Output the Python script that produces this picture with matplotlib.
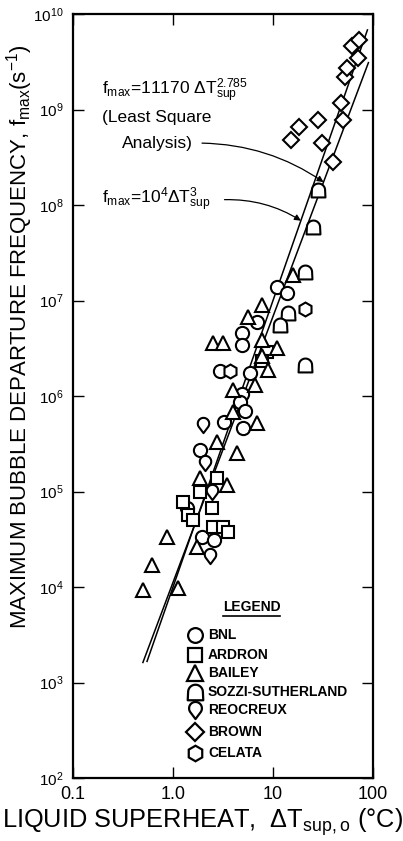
import numpy as np
import matplotlib
matplotlib.use("Agg")
import matplotlib.pyplot as plt
from matplotlib.path import Path

plt.rcParams['font.family'] = ['Liberation Sans', 'DejaVu Sans']
plt.rcParams['mathtext.default'] = 'regular'

# liquid superheat (degC) vs. maximum bubble departure frequency (1/s)
bnl_dt = [11.0, 13.8, 6.9, 4.9, 4.9, 2.95, 5.9, 4.9, 4.7, 5.25, 3.24, 5.0, 1.86, 1.38, 1.95, 2.6]
bnl_f = [1.38e7, 1.20e7, 6.0e6, 4.6e6, 3.4e6, 1.83e6, 1.74e6, 1.05e6, 8.6e5, 7.0e5, 5.35e5, 4.6e5,
         2.7e5, 6.7e4, 3.3e4, 3.1e4]

ardron_dt = [2.75, 1.86, 1.26, 2.45, 1.41, 1.58, 2.5, 3.16, 3.55, 8.7, 7.8]
ardron_f = [1.38e5, 9.9e4, 7.8e4, 6.7e4, 5.7e4, 5.0e4, 4.25e4, 4.25e4, 3.8e4, 2.9e6, 2.3e6]

bailey_dt = [15.8, 7.8, 5.6, 2.5, 3.16, 7.8, 11.0, 7.8, 8.9, 4.0, 6.6, 4.0, 6.9, 2.75, 4.4,
             1.86, 3.5, 1.74, 0.87, 0.62, 0.50, 1.12]
bailey_f = [1.85e7, 9.0e6, 6.7e6, 3.6e6, 3.6e6, 3.9e6, 3.2e6, 2.6e6, 1.87e6, 1.16e6, 1.3e6,
            6.8e5, 5.2e5, 3.3e5, 2.5e5, 1.38e5, 1.17e5, 2.6e4, 3.3e4, 1.7e4, 9.3e3, 9.8e3]

sozzi_dt = [28.2, 25.1, 20.9, 14.1, 11.7, 20.9]
sozzi_f = [1.44e8, 5.9e7, 2.0e7, 7.4e6, 5.5e6, 2.1e6]

reocreux_dt = [2.0, 2.1, 2.45, 2.34]
reocreux_f = [5.0e5, 2.0e5, 9.9e4, 2.1e4]

brown_dt = [15.1, 18.2, 28.2, 30.9, 39.8, 47.9, 50.1, 52.5, 55.0, 61.7, 70.8, 72.4]
brown_f = [4.8e8, 6.5e8, 7.8e8, 4.5e8, 2.8e8, 1.17e9, 7.8e8, 2.2e9, 2.7e9, 4.6e9, 3.5e9, 5.3e9]

celata_dt = [20.9, 3.7]
celata_f = [8.2e6, 1.83e6]

# correlations  f = C * dT**n
ls_coef, ls_exp, ls_range = 11170.0, 2.785, (0.5, 90.0)
cube_coef, cube_exp, cube_range = 1.0e4, 3.0, (0.55, 88.0)

x_ticks = [0.1, 1.0, 10, 100]
x_ticklabels = ['0.1', '1.0', '10', '100']
y_decades = list(range(2, 11))


def bell_path():
    t = np.linspace(0, np.pi, 30)
    arc = np.column_stack([0.95 * np.cos(t), 0.05 + 0.95 * np.sin(t)])
    verts = np.vstack([[(-1.0, -1.0), (1.0, -1.0)], arc, [(-1.0, -1.0)]])
    codes = [Path.MOVETO] + [Path.LINETO] * (len(verts) - 2) + [Path.CLOSEPOLY]
    return Path(verts, codes)


def drop_path():
    a0 = np.arctan2(-0.45, 0.6)
    t = np.linspace(a0, np.pi - a0, 40)
    arc = np.column_stack([0.75 * np.cos(t), 0.25 + 0.75 * np.sin(t)])
    verts = np.vstack([arc, [(0.0, -1.0)], arc[:1]])
    codes = [Path.MOVETO] + [Path.LINETO] * (len(verts) - 2) + [Path.CLOSEPOLY]
    return Path(verts, codes)


series = [
    ('BNL', bnl_dt, bnl_f, 'o', 9.5),
    ('ARDRON', ardron_dt, ardron_f, 's', 8.5),
    ('BAILEY', bailey_dt, bailey_f, '^', 10),
    ('SOZZI-SUTHERLAND', sozzi_dt, sozzi_f, bell_path(), 10),
    ('REOCREUX', reocreux_dt, reocreux_f, drop_path(), 11),
    ('BROWN', brown_dt, brown_f, 'D', 8.5),
    ('CELATA', celata_dt, celata_f, 'h', 10),
]

fig = plt.figure(figsize=(4.03, 8.41), dpi=100)
ax = fig.add_axes([73 / 403, 63 / 841, 300 / 403, 764 / 841])
ax.set_xscale('log')
ax.set_yscale('log')
ax.set_xlim(0.1, 100)
ax.set_ylim(1e2, 1e10)

# fitted lines
for coef, expo, (t0, t1) in [(ls_coef, ls_exp, ls_range), (cube_coef, cube_exp, cube_range)]:
    t = np.geomspace(t0, t1, 50)
    ax.plot(t, coef * t ** expo, color='black', lw=1.1, zorder=2)

for name, dt, f, mk, ms in series:
    ax.plot(dt, f, linestyle='none', marker=mk, ms=ms, mfc='white', mec='black',
            mew=1.5, zorder=3)

# annotations
ax.text(0.097, 0.90, r'$f_{max}$=11170 ΔT$^{2.785}_{sup}$', transform=ax.transAxes,
        fontsize=12.5, va='center', ha='left')
ax.text(0.097, 0.864, '(Least Square', transform=ax.transAxes, fontsize=12.5, va='center')
ax.text(0.163, 0.831, 'Analysis)', transform=ax.transAxes, fontsize=12.5, va='center')
ax.text(0.097, 0.757, r'$f_{max}$=10$^{4}$ΔT$^{3}_{sup}$', transform=ax.transAxes,
        fontsize=12.5, va='center', ha='left')

arrow = dict(arrowstyle='-|>', color='black', lw=0.9, mutation_scale=9,
             shrinkA=0, shrinkB=0)
ax.annotate('', xy=(32, ls_coef * 32 ** ls_exp), xycoords='data',
            xytext=(0.43, 0.831), textcoords='axes fraction',
            arrowprops=dict(arrow, connectionstyle='arc3,rad=-0.15'))
ax.annotate('', xy=(19, cube_coef * 19 ** cube_exp), xycoords='data',
            xytext=(0.505, 0.757), textcoords='axes fraction',
            arrowprops=dict(arrow, connectionstyle='arc3,rad=-0.15'))

# legend block
ax.text(0.50, 0.219, 'LEGEND', transform=ax.transAxes, fontsize=10, fontweight='bold',
        va='baseline', ha='left')
ax.plot([0.50, 0.69], [0.212, 0.212], transform=ax.transAxes, color='black', lw=1.2)
row_y = [0.187, 0.161, 0.137, 0.113, 0.089, 0.060, 0.033]
for (name, dt, f, mk, ms), yy in zip(series, row_y):
    ax.plot([0.407], [yy], transform=ax.transAxes, marker=mk, ms=ms * 1.12, mfc='white',
            mec='black', mew=1.6, linestyle='none', clip_on=False)
    ax.text(0.45, yy, name, transform=ax.transAxes, fontsize=10, fontweight='bold',
            va='center', ha='left')

# axes styling
ax.set_xticks(x_ticks)
ax.set_xticklabels(x_ticklabels, fontsize=13)
ax.set_yticks([10.0 ** k for k in y_decades])
ax.set_yticklabels([r'$10^{%d}$' % k for k in y_decades], fontsize=11)
ax.minorticks_off()
ax.tick_params(which='major', direction='in', length=8, width=1, top=True, right=True)
ax.tick_params(axis='x', pad=6)
ax.tick_params(axis='y', pad=7)
for s in ax.spines.values():
    s.set_linewidth(1.6)

fig.text(20 / 403, 1 - 337 / 841, r'MAXIMUM BUBBLE DEPARTURE FREQUENCY, $f_{max}(s^{-1})$',
         rotation=90, fontsize=16, ha='center', va='center')
fig.text(203 / 403, 1 - 822 / 841, r'LIQUID SUPERHEAT,  ΔT$_{sup,o}$ (°C)',
         fontsize=18.3, ha='center', va='center')

fig.savefig('out.png', dpi=100)
